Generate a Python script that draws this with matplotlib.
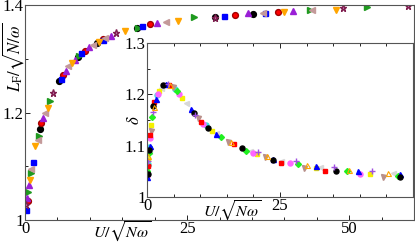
import matplotlib
matplotlib.use("Agg")
import matplotlib.pyplot as plt
from matplotlib.ticker import MultipleLocator

plt.rcParams['font.family'] = ['Liberation Serif', 'DejaVu Serif']
plt.rcParams['mathtext.fontset'] = 'stix'

# main panel: L_F / sqrt(N/w) vs U / sqrt(N w), one list pair per data set
main_black_x = [2.3, 5.3, 8.2, 11.1, 17.2, 29.3, 35.1]
main_black_y = [1.170, 1.258, 1.304, 1.329, 1.357, 1.378, 1.383]
main_red_x = [0.4, 2.5, 5.9, 9.2, 12.1, 19.3, 32.4, 39.0]
main_red_y = [1.035, 1.181, 1.269, 1.314, 1.336, 1.364, 1.381, 1.387]
main_green_x = [0.5, 1.0, 2.2, 3.8, 8.3, 17.4, 26.1, 43.9, 52.8]
main_green_y = [1.052, 1.088, 1.157, 1.222, 1.305, 1.358, 1.378, 1.391, 1.396]
main_blue_x = [0.15, 1.3, 5.6, 8.7, 12.0, 18.1, 30.7, 37.0]
main_blue_y = [1.019, 1.107, 1.263, 1.310, 1.335, 1.361, 1.380, 1.385]
main_purple_x = [0.3, 0.6, 2.7, 6.3, 7.7, 9.9, 13.2, 20.4, 34.4, 41.4]
main_purple_y = [1.041, 1.065, 1.190, 1.278, 1.297, 1.321, 1.342, 1.366, 1.385, 1.389]
main_rosy_x = [0.9, 2.0, 3.1, 6.7, 10.5, 12.4, 21.8, 36.7, 44.3]
main_rosy_y = [1.095, 1.148, 1.200, 1.286, 1.325, 1.339, 1.368, 1.385, 1.391]
main_orange_x = [0.8, 1.5, 3.5, 7.2, 11.4, 15.5, 23.6, 39.9, 48.0]
main_orange_y = [1.075, 1.137, 1.209, 1.292, 1.331, 1.351, 1.370, 1.387, 1.391]
main_star_x = [0.2, 4.3, 14.1, 29.3, 49.1, 59.0]
main_star_y = [1.028, 1.237, 1.347, 1.376, 1.394, 1.398]

# inset: delta vs U / sqrt(N w)
ins_black_x = [0.1, 0.4, 1.2, 3.0, 8.8, 11.5, 17.8, 23.7, 35.6, 47.6]
ins_black_y = [1.045, 1.092, 1.178, 1.219, 1.163, 1.134, 1.095, 1.072, 1.050, 1.039]
ins_red_x = [0.15, 0.6, 1.4, 4.2, 10.1, 16.4, 25.2, 33.5]
ins_red_y = [1.060, 1.120, 1.185, 1.218, 1.146, 1.103, 1.066, 1.050]
ins_lime_x = [0.05, 0.3, 1.0, 5.6, 14.0, 18.7, 28.3, 37.6, 47.2]
ins_lime_y = [1.050, 1.085, 1.155, 1.207, 1.117, 1.090, 1.064, 1.050, 1.041]
ins_blue_x = [0.0, 0.5, 1.6, 3.6, 8.2, 13.0, 23.7, 31.7, 39.6, 47.6]
ins_blue_y = [1.038, 1.100, 1.190, 1.221, 1.172, 1.122, 1.074, 1.060, 1.050, 1.045]
ins_yellow_x = [0.2, 0.8, 2.2, 6.5, 12.2, 20.7, 31.7, 41.9]
ins_yellow_y = [1.075, 1.140, 1.207, 1.193, 1.128, 1.083, 1.056, 1.045]
ins_rosy_x = [0.1, 0.7, 4.8, 9.5, 15.2, 22.2, 29.6, 44.4]
ins_rosy_y = [1.058, 1.128, 1.214, 1.153, 1.108, 1.077, 1.056, 1.039]
ins_grey_x = [0.3, 2.6, 7.4, 12.9, 19.4, 25.2, 32.5, 46.3]
ins_grey_y = [1.090, 1.213, 1.183, 1.125, 1.090, 1.070, 1.058, 1.047]
ins_violet_x = [0.2, 1.1, 3.9, 9.0, 20.9, 28.0, 35.2, 42.2]
ins_violet_y = [1.070, 1.165, 1.220, 1.160, 1.088, 1.070, 1.058, 1.050]
ins_cyan_x = [0.1, 0.4, 1.8, 5.2, 11.0]
ins_cyan_y = [1.065, 1.097, 1.198, 1.210, 1.140]
ins_magenta_x = [0.05, 0.6, 2.0, 6.0, 10.6, 20.0, 26.9, 40.0]
ins_magenta_y = [1.040, 1.115, 1.200, 1.200, 1.143, 1.085, 1.066, 1.045]
ins_orange_x = [0.25, 1.3, 4.4, 15.7, 22.5, 30.0, 37.9, 45.3]
ins_orange_y = [1.080, 1.175, 1.219, 1.107, 1.080, 1.063, 1.053, 1.047]

fig = plt.figure(figsize=(4.15, 2.45), dpi=100)
ax = fig.add_axes([25/415, 25/245, 389/415, 215/245])

ms = 4.2
ax.plot(main_black_x, main_black_y, 'o', color='black', ms=ms)
ax.plot(main_red_x, main_red_y, 'o', color='red', mec='#a00000', ms=ms)
ax.plot(main_green_x, main_green_y, '>', color='#1f9a1f', ms=ms)
ax.plot(main_blue_x, main_blue_y, 's', color='blue', ms=ms - 0.6)
ax.plot(main_purple_x, main_purple_y, '^', color='#9a1fd6', ms=ms)
ax.plot(main_rosy_x, main_rosy_y, '<', color='#c49a9a', ms=ms)
ax.plot(main_orange_x, main_orange_y, 'v', color='#ffa500', ms=ms)
ax.plot(main_star_x, main_star_y, '*', color='#c070b0', mec='#802050', ms=ms + 1)

ax.set_xlim(0, 60)
ax.set_ylim(1, 1.4)
ax.xaxis.set_minor_locator(MultipleLocator(5))
ax.yaxis.set_minor_locator(MultipleLocator(0.1))
ax.set_xticks([0, 25, 50])
ax.set_xticklabels(['0', '25', '50'])
ax.set_yticks([1, 1.2, 1.4])
ax.set_yticklabels(['1', '1.2', '1.4'])
ax.tick_params(which='both', direction='in', top=False, right=False,
               labelsize=12, width=0.6, pad=1)
ax.tick_params(which='major', length=3.5)
ax.tick_params(which='minor', length=2.5)
for s in ax.spines.values():
    s.set_linewidth(0.8)
    s.set_color('#555555')
ax.text(0.25, -0.055, r'$U/\sqrt{N\omega}$', transform=ax.transAxes,
        ha='center', va='center', fontsize=11.5)
fig.text(13/415, 1 - 57/245, r'$L_{\rm F}/\sqrt{N/\omega}$', rotation=90,
         ha='center', va='center', fontsize=12)

# inset
ins = fig.add_axes([147/415, 48/245, 266/415, 154/245])
ims = 3.6
ins.plot(ins_grey_x, ins_grey_y, '<', color='#d8d8d8', ms=ims)
ins.plot(ins_cyan_x, ins_cyan_y, 'o', color='#40e0e0', ms=ims)
ins.plot(ins_yellow_x, ins_yellow_y, 's', color='#f5f000', ms=ims - 0.4)
ins.plot(ins_magenta_x, ins_magenta_y, 'o', color='#ff66ff', ms=ims)
ins.plot(ins_rosy_x, ins_rosy_y, 'v', color='#b8908a', ms=ims)
ins.plot(ins_lime_x, ins_lime_y, 'D', color='#20f020', ms=ims - 0.6)
ins.plot(ins_red_x, ins_red_y, 's', color='red', ms=ims - 0.4)
ins.plot(ins_blue_x, ins_blue_y, '^', color='blue', ms=ims)
ins.plot(ins_black_x, ins_black_y, 'o', color='black', ms=ims)
ins.plot(ins_violet_x, ins_violet_y, '+', color='#a050e0', ms=ims + 1, mew=1)
ins.plot(ins_orange_x, ins_orange_y, '^', color='#ffa500', mfc='none', ms=ims, mew=0.8)

ins.set_xlim(0, 50)
ins.set_ylim(1, 1.3)
ins.set_xticks([0, 25])
ins.set_xticklabels(['0', '25'])
ins.xaxis.set_minor_locator(MultipleLocator(5))
ins.set_yticks([1, 1.1, 1.2, 1.3])
ins.set_yticklabels(['1', '1.1', '1.2', '1.3'])
ins.yaxis.set_minor_locator(MultipleLocator(0.05))
ins.tick_params(which='both', direction='in', top=True, right=False,
                labelsize=12, width=0.6, pad=1)
ins.tick_params(which='major', length=3.5)
ins.tick_params(which='minor', length=2.5)
for s in ins.spines.values():
    s.set_linewidth(0.8)
    s.set_color('#555555')
ins.text(0.32, -0.09, r'$U/\sqrt{N\omega}$', transform=ins.transAxes,
         ha='center', va='center', fontsize=11.5)
ins.text(-0.045, 0.5, r'$\delta$', transform=ins.transAxes, rotation=90,
         ha='center', va='center', fontsize=12)

fig.savefig('out.png', dpi=100)
